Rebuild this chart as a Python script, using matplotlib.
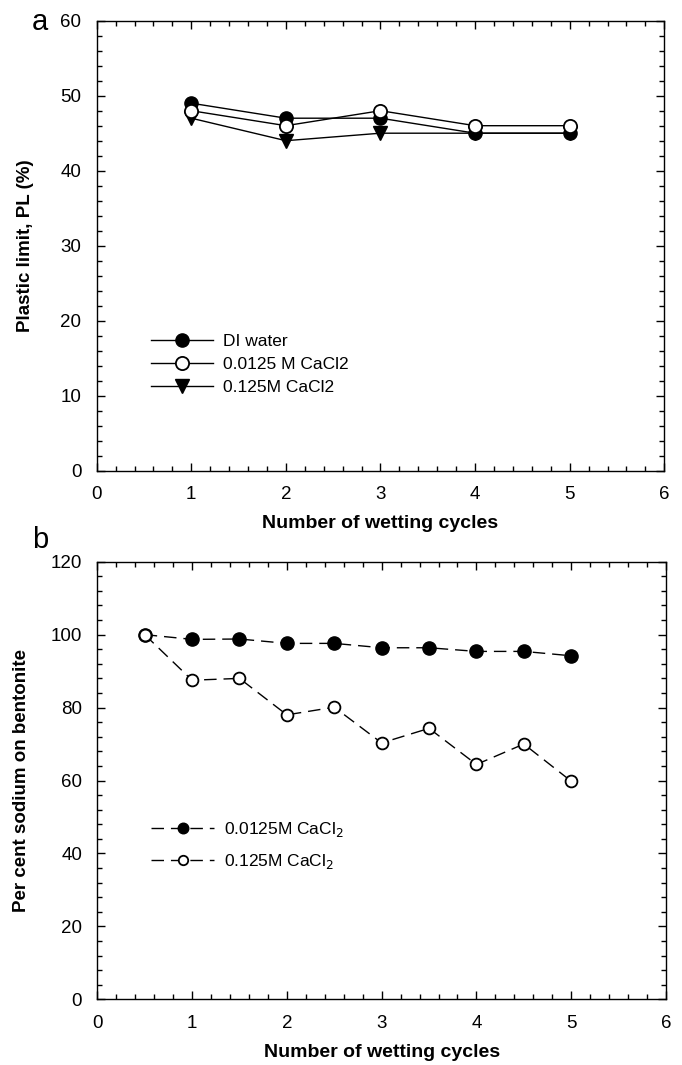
import matplotlib
matplotlib.use("Agg")
import matplotlib.pyplot as plt
from matplotlib.ticker import MultipleLocator

plt.rcParams['font.family'] = ['Liberation Sans', 'DejaVu Sans']

# Panel a data
cycles_a = [1, 2, 3, 4, 5]
pl_di = [49, 47, 47, 45, 45]
pl_00125 = [48, 46, 48, 46, 46]
pl_0125 = [47, 44, 45, 45, 45]
labels_a = ["DI water", "0.0125 M CaCl2", "0.125M CaCl2"]

# Panel b data
cycles_b = [0.5, 1, 1.5, 2, 2.5, 3, 3.5, 4, 4.5, 5]
na_00125 = [100, 98.7, 98.8, 97.6, 97.6, 96.4, 96.4, 95.4, 95.4, 94.2]
na_0125 = [100, 87.5, 88.0, 78.0, 80.1, 70.3, 74.3, 64.4, 70.0, 59.8]
labels_b = ["0.0125M CaCl$_2$", "0.125M CaCl$_2$"]

W, H = 682, 1065
fig = plt.figure(figsize=(W / 100, H / 100), dpi=100)

def frac(x0, y0, x1, y1):
    return [x0 / W, 1 - y1 / H, (x1 - x0) / W, (y1 - y0) / H]

ax1 = fig.add_axes(frac(96.7, 20.7, 664.3, 470.7))
ax2 = fig.add_axes(frac(97.3, 561.7, 666.0, 999.3))

for ax in (ax1, ax2):
    ax.tick_params(which='both', direction='in', top=True, right=True, labelsize=13.5)
    ax.tick_params(axis='x', which='both', pad=11)
    ax.tick_params(axis='y', which='both', pad=11)
    ax.tick_params(which='major', length=6, width=1)
    ax.tick_params(which='minor', length=3.5, width=1)
    for s in ax.spines.values():
        s.set_linewidth(1.0)
    ax.set_xlim(0, 6)
    ax.xaxis.set_major_locator(MultipleLocator(1))
    ax.xaxis.set_minor_locator(MultipleLocator(0.2))
    ax.set_xlabel("Number of wetting cycles", fontsize=14, fontweight='bold', labelpad=9)

# Panel a
ax1.set_ylim(0, 60)
ax1.yaxis.set_major_locator(MultipleLocator(10))
ax1.yaxis.set_minor_locator(MultipleLocator(2))
ms = 9.5
ax1.plot(cycles_a, pl_0125, color='black', lw=1.0, marker='v', ms=ms, mfc='black', mec='black', label=labels_a[2], zorder=2)
ax1.plot(cycles_a, pl_di, color='black', lw=1.0, marker='o', ms=ms, mfc='black', mec='black', label=labels_a[0], zorder=3)
ax1.plot(cycles_a, pl_00125, color='black', lw=1.0, marker='o', ms=ms, mfc='white', mec='black', mew=1.3, label=labels_a[1], zorder=4)
ax1.set_ylabel("Plastic limit, PL (%)", fontsize=13.5, fontweight='bold', labelpad=19)
h, l = ax1.get_legend_handles_labels()
order = [1, 2, 0]
ax1.legend([h[i] for i in order], [l[i] for i in order], loc='upper left',
           bbox_to_anchor=(0.08, 0.324), frameon=False, fontsize=12.5,
           handlelength=3.6, handletextpad=0.55, labelspacing=0.45, borderpad=0)

# Panel b
ax2.set_ylim(0, 120)
ax2.yaxis.set_major_locator(MultipleLocator(20))
ax2.yaxis.set_minor_locator(MultipleLocator(4))
dash = (0, (9, 5))
ax2.plot(cycles_b, na_0125, color='black', lw=1.0, ls=dash, marker='o', ms=8.5, mfc='white', mec='black', mew=1.3, label=labels_b[1], zorder=3)
ax2.plot(cycles_b, na_00125, color='black', lw=1.0, ls=dash, marker='o', ms=9.5, mfc='black', mec='black', label=labels_b[0], zorder=2)
ax2.set_ylabel("Per cent sodium on bentonite", fontsize=13.5, fontweight='bold', labelpad=15)
h, l = ax2.get_legend_handles_labels()
ax2.legend([h[1], h[0]], [l[1], l[0]], loc='upper left',
           bbox_to_anchor=(0.08, 0.43), frameon=False, fontsize=12.5,
           handlelength=3.6, handletextpad=0.55, labelspacing=0.75, borderpad=0,
           markerscale=0.8)

fig.text(40 / W, 1 - 22 / H, "a", fontsize=21, ha='center', va='center')
fig.text(40 / W, 1 - 540 / H, "b", fontsize=21, ha='center', va='center')

fig.savefig("out.png", dpi=100)
